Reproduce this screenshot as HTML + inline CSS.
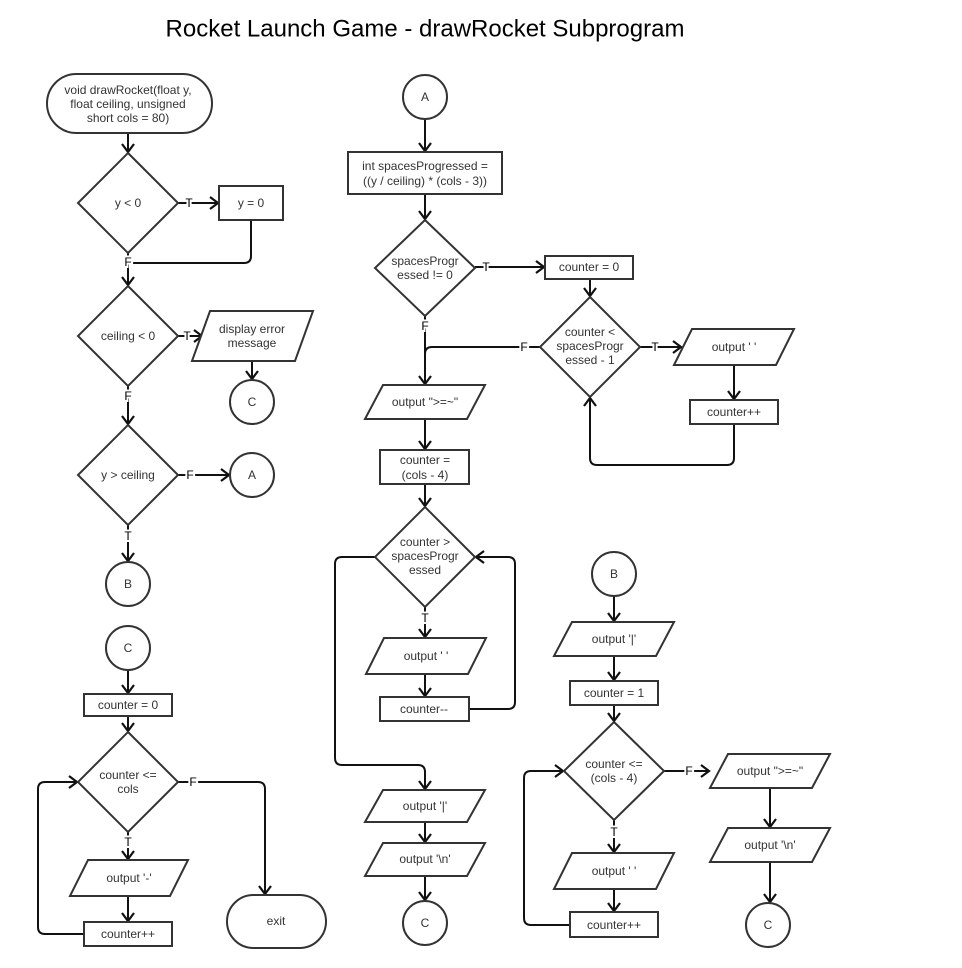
<!DOCTYPE html>
<html><head><meta charset="utf-8"><style>
html,body{margin:0;padding:0;background:#fff}
svg{display:block}
text{font-family:"Liberation Sans",Arial,sans-serif;font-size:12px;fill:#333;text-anchor:middle;dominant-baseline:central}
.l{font-size:12px;fill:#000;stroke:#fff;stroke-width:4px;paint-order:stroke}
.s{fill:#fff;stroke:#333;stroke-width:2}
.e{fill:none;stroke:#111;stroke-width:2;stroke-linejoin:round}
</style></head><body>
<svg width="962" height="968" viewBox="0 0 962 968" xmlns="http://www.w3.org/2000/svg">
<defs><marker id="a" markerWidth="14" markerHeight="14" refX="10" refY="7" orient="auto" markerUnits="userSpaceOnUse"><path d="M2,1 L10,7 L2,13" fill="none" stroke="#111" stroke-width="2.2"/></marker></defs>
<text x="425" y="29" style="font-size:24px;fill:#000">Rocket Launch Game - drawRocket Subprogram</text>

<!-- left column -->
<g class="e">
<path d="M128,133 V152" marker-end="url(#a)"/>
<path d="M178,203 H218" marker-end="url(#a)"/>
<path d="M251,220 V256 Q251,263 244,263 H128"/>
<path d="M128,253 V285" marker-end="url(#a)"/>
<path d="M178,336 H202" marker-end="url(#a)"/>
<path d="M252,361 V379" marker-end="url(#a)"/>
<path d="M128,386 V424" marker-end="url(#a)"/>
<path d="M178,475 H229" marker-end="url(#a)"/>
<path d="M128,525 V561" marker-end="url(#a)"/>
<path d="M128,670 V693" marker-end="url(#a)"/>
<path d="M128,716 V731" marker-end="url(#a)"/>
<path d="M178,782 H258 Q265,782 265,789 V894" marker-end="url(#a)"/>
<path d="M128,832 V859" marker-end="url(#a)"/>
<path d="M128,896 V921" marker-end="url(#a)"/>
<path d="M84,934 H45 Q38,934 38,927 V789 Q38,782 45,782 H77" marker-end="url(#a)"/>
</g>
<rect class="s" x="47" y="74" width="165" height="59" rx="29.5"/>
<text x="128" y="90">void drawRocket(float y,</text><text x="128" y="104">float ceiling, unsigned</text><text x="128" y="118">short cols = 80)</text>
<polygon class="s" points="128,153 178,203 128,253 78,203"/><text x="128" y="203">y &lt; 0</text>
<rect class="s" x="219" y="186" width="64" height="34"/><text x="251" y="203">y = 0</text>
<polygon class="s" points="128,286 178,336 128,386 78,336"/><text x="128" y="336">ceiling &lt; 0</text>
<polygon class="s" points="210,311 313,311 295,361 192,361"/><text x="252" y="329">display error</text><text x="252" y="343">message</text>
<circle class="s" cx="252" cy="402" r="22"/><text x="252" y="402">C</text>
<polygon class="s" points="128,425 178,475 128,525 78,475"/><text x="128" y="475">y &gt; ceiling</text>
<circle class="s" cx="252" cy="475" r="22"/><text x="252" y="475">A</text>
<circle class="s" cx="128" cy="584" r="22"/><text x="128" y="584">B</text>
<circle class="s" cx="128" cy="648" r="22"/><text x="128" y="648">C</text>
<rect class="s" x="84" y="694" width="88" height="22"/><text x="128" y="705">counter = 0</text>
<polygon class="s" points="128,732 178,782 128,832 78,782"/><text x="128" y="775">counter &lt;=</text><text x="128" y="789">cols</text>
<polygon class="s" points="88,860 188,860 170,896 70,896"/><text x="129" y="878">output '-'</text>
<rect class="s" x="84" y="922" width="88" height="24"/><text x="128" y="934">counter++</text>
<rect class="s" x="227" y="895" width="99" height="53" rx="26.5"/><text x="276" y="921">exit</text>
<text class="l" x="189" y="203">T</text><text class="l" x="128" y="262">F</text><text class="l" x="187" y="336">T</text>
<text class="l" x="128" y="396">F</text><text class="l" x="190" y="475">F</text><text class="l" x="128" y="536">T</text>
<text class="l" x="193" y="782">F</text><text class="l" x="128" y="842">T</text>

<!-- middle column -->
<g class="e">
<path d="M425,119 V151" marker-end="url(#a)"/>
<path d="M425,194 V219" marker-end="url(#a)"/>
<path d="M475,267 H544" marker-end="url(#a)"/>
<path d="M590,279 V296" marker-end="url(#a)"/>
<path d="M640,347 H681" marker-end="url(#a)"/>
<path d="M734,365 V399" marker-end="url(#a)"/>
<path d="M734,424 V458 Q734,465 727,465 H597 Q590,465 590,458 V398" marker-end="url(#a)"/>
<path d="M540,347 H432 Q425,347 425,354"/>
<path d="M425,316 V384" marker-end="url(#a)"/>
<path d="M425,419 V449" marker-end="url(#a)"/>
<path d="M425,484 V506" marker-end="url(#a)"/>
<path d="M425,607 V637" marker-end="url(#a)"/>
<path d="M425,674 V696" marker-end="url(#a)"/>
<path d="M469,709 H508 Q515,709 515,702 V564 Q515,557 508,557 H476" marker-end="url(#a)"/>
<path d="M375,557 H342 Q335,557 335,564 V758 Q335,765 342,765 H418 Q425,765 425,772 V789" marker-end="url(#a)"/>
<path d="M425,822 V842" marker-end="url(#a)"/>
<path d="M425,876 V900" marker-end="url(#a)"/>
</g>
<circle class="s" cx="425" cy="97" r="22"/><text x="425" y="97">A</text>
<rect class="s" x="348" y="152" width="154" height="42"/><text x="425" y="166">int spacesProgressed =</text><text x="425" y="181">((y / ceiling) * (cols - 3))</text>
<polygon class="s" points="425,220 475,268 425,316 375,268"/><text x="425" y="261">spacesProgr</text><text x="425" y="275">essed != 0</text>
<rect class="s" x="545" y="256" width="88" height="23"/><text x="589" y="267">counter = 0</text>
<polygon class="s" points="590,297 640,347 590,397 540,347"/><text x="590" y="332">counter &lt;</text><text x="590" y="346">spacesProgr</text><text x="590" y="360">essed - 1</text>
<polygon class="s" points="692,329 794,329 776,365 674,365"/><text x="734" y="347">output ' '</text>
<rect class="s" x="690" y="400" width="88" height="24"/><text x="734" y="412">counter++</text>
<polygon class="s" points="383,385 485,385 467,419 365,419"/><text x="425" y="402">output "&gt;=~"</text>
<rect class="s" x="380" y="450" width="89" height="34"/><text x="425" y="460">counter =</text><text x="425" y="475">(cols - 4)</text>
<polygon class="s" points="425,507 475,557 425,607 375,557"/><text x="425" y="542">counter &gt;</text><text x="425" y="556">spacesProgr</text><text x="425" y="570">essed</text>
<polygon class="s" points="384,638 486,638 468,674 366,674"/><text x="426" y="656">output ' '</text>
<rect class="s" x="380" y="697" width="89" height="24"/><text x="424" y="709">counter--</text>
<polygon class="s" points="383,790 485,790 467,822 365,822"/><text x="425" y="806">output '|'</text>
<polygon class="s" points="383,843 485,843 467,876 365,876"/><text x="425" y="859">output '\n'</text>
<circle class="s" cx="425" cy="923" r="22"/><text x="425" y="923">C</text>
<text class="l" x="486" y="267">T</text><text class="l" x="655" y="347">T</text><text class="l" x="524" y="347">F</text>
<text class="l" x="425" y="326">F</text><text class="l" x="425" y="618">T</text>

<!-- right bottom -->
<g class="e">
<path d="M614,596 V621" marker-end="url(#a)"/>
<path d="M614,656 V680" marker-end="url(#a)"/>
<path d="M614,705 V721" marker-end="url(#a)"/>
<path d="M664,771 H709" marker-end="url(#a)"/>
<path d="M770,788 V827" marker-end="url(#a)"/>
<path d="M770,862 V902" marker-end="url(#a)"/>
<path d="M614,820 V852" marker-end="url(#a)"/>
<path d="M614,889 V911" marker-end="url(#a)"/>
<path d="M570,925 H531 Q524,925 524,918 V778 Q524,771 531,771 H563" marker-end="url(#a)"/>
</g>
<circle class="s" cx="614" cy="574" r="22"/><text x="614" y="574">B</text>
<polygon class="s" points="572,622 674,622 656,656 554,656"/><text x="614" y="639">output '|'</text>
<rect class="s" x="570" y="681" width="88" height="24"/><text x="614" y="693">counter = 1</text>
<polygon class="s" points="614,722 664,771 614,820 564,771"/><text x="614" y="764">counter &lt;=</text><text x="614" y="778">(cols - 4)</text>
<polygon class="s" points="728,754 830,754 812,788 710,788"/><text x="770" y="771">output "&gt;=~"</text>
<polygon class="s" points="728,828 830,828 812,862 710,862"/><text x="770" y="845">output '\n'</text>
<circle class="s" cx="768" cy="925" r="22"/><text x="768" y="925">C</text>
<polygon class="s" points="572,853 674,853 656,889 554,889"/><text x="614" y="871">output ' '</text>
<rect class="s" x="570" y="912" width="88" height="25"/><text x="614" y="925">counter++</text>
<text class="l" x="689" y="771">F</text><text class="l" x="614" y="832">T</text>
</svg>
</body></html>
